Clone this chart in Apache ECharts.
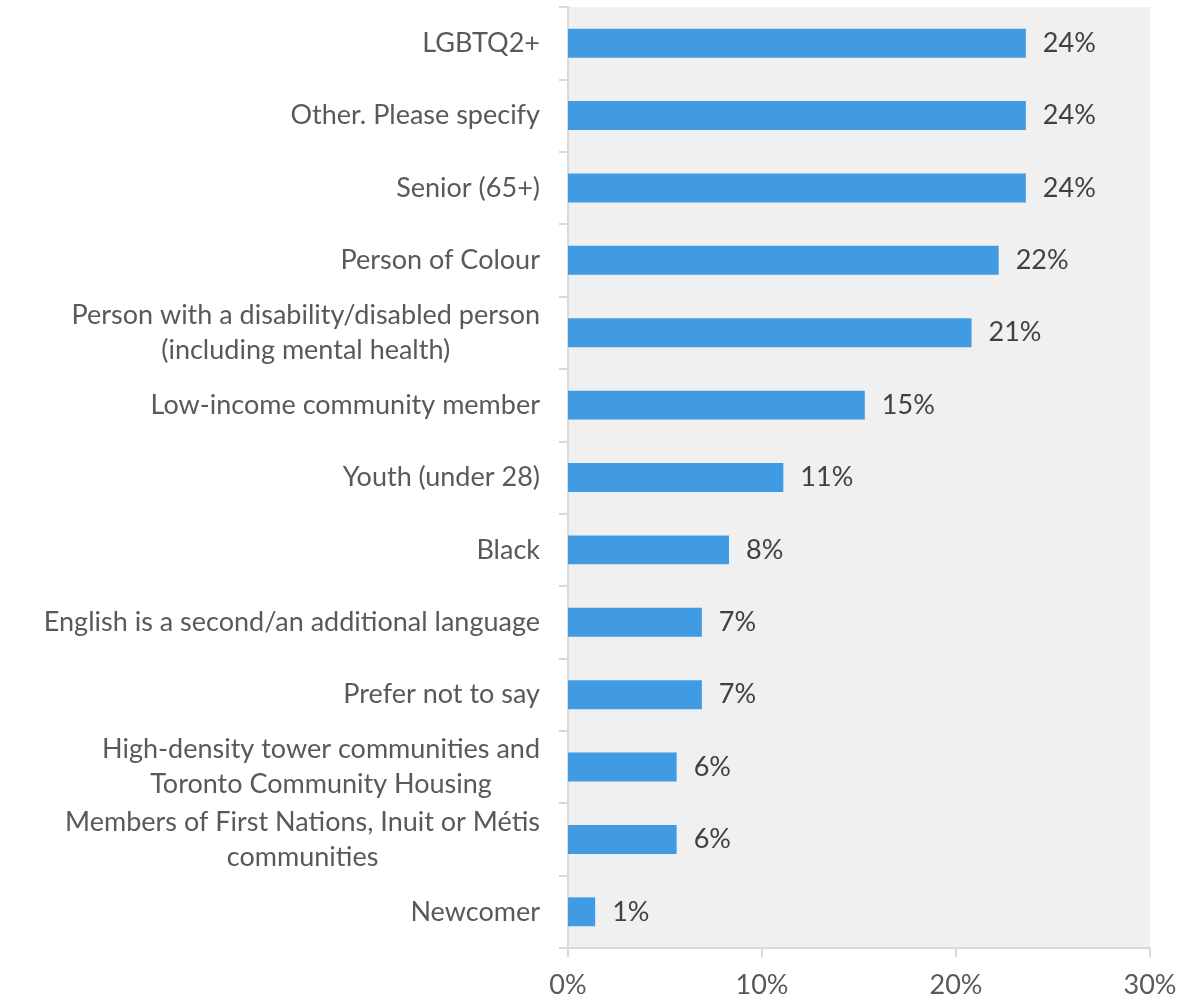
<!DOCTYPE html>
<html>
<head>
<meta charset="utf-8">
<style>
  html, body { margin: 0; padding: 0; background: #ffffff; }
  #chart { width: 1199px; height: 999px; }
</style>
<script src="https://cdn.jsdelivr.net/npm/echarts@6/dist/echarts.min.js"></script>
</head>
<body>
<div id="chart"></div>
<script>
// Response groups, listed top to bottom
const categories = [
  'LGBTQ2+',
  'Other. Please specify',
  'Senior (65+)',
  'Person of Colour',
  'Person with a disability/disabled person\n(including mental health)',
  'Low-income community member',
  'Youth (under 28)',
  'Black',
  'English is a second/an additional language',
  'Prefer not to say',
  'High-density tower communities and\nToronto Community Housing',
  'Members of First Nations, Inuit or Métis\ncommunities',
  'Newcomer'
];

// Share of respondents, percent
const shares = [23.6, 23.6, 23.6, 22.2, 20.8, 15.3, 11.1, 8.3, 6.9, 6.9, 5.6, 5.6, 1.4];

// Value axis ticks, percent
const xTicks = [0, 10, 20, 30];

const FONT = 'Lato';
const FONT_SIZE = 27;
const axisGrey = '#d9d9d9';

const chart = echarts.init(document.getElementById('chart'));

chart.setOption({
  animation: false,
  textStyle: { fontFamily: FONT },
  grid: {
    left: 568,
    right: 49,
    top: 7,
    bottom: 49,
    show: true,
    backgroundColor: '#f0f0f0',
    borderWidth: 0
  },
  xAxis: {
    type: 'value',
    min: xTicks[0],
    max: xTicks[xTicks.length - 1],
    interval: xTicks[1] - xTicks[0],
    axisLine: { show: true, lineStyle: { color: axisGrey, width: 2 } },
    axisTick: { show: true, length: 9, lineStyle: { color: axisGrey, width: 2 } },
    splitLine: { show: false },
    axisLabel: {
      formatter: '{value}%',
      color: '#595959',
      fontSize: FONT_SIZE,
      fontFamily: FONT,
      margin: 24
    }
  },
  yAxis: {
    type: 'category',
    inverse: true,
    data: categories,
    axisLine: { show: true, lineStyle: { color: axisGrey, width: 2 } },
    axisTick: { show: true, length: 9, lineStyle: { color: axisGrey, width: 2 } },
    axisLabel: {
      margin: 28,
      color: '#595959',
      fontSize: FONT_SIZE,
      fontFamily: FONT,
      lineHeight: 35,
      formatter: function (v) {
        return v.split('\n').map(function (line) { return '{c|' + line + '}'; }).join('\n');
      },
      rich: {
        c: { align: 'center', color: '#595959', fontSize: FONT_SIZE, fontFamily: FONT, lineHeight: 35 }
      }
    }
  },
  series: [{
    type: 'bar',
    data: shares,
    barWidth: '40%',
    itemStyle: { color: '#419be3' },
    label: {
      show: true,
      position: 'right',
      distance: 17,
      color: '#404040',
      fontSize: FONT_SIZE,
      fontFamily: FONT,
      formatter: function (p) { return Math.round(p.value) + '%'; }
    }
  }]
});
</script>
</body>
</html>
